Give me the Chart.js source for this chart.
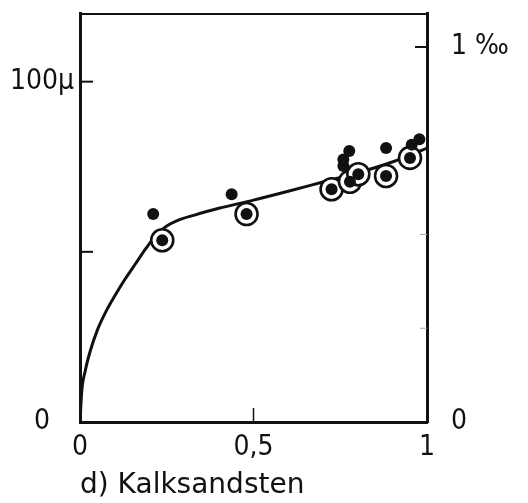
<!DOCTYPE html>
<html><head><meta charset="utf-8">
<script src="https://cdn.jsdelivr.net/npm/chart.js@4/dist/chart.umd.min.js"></script>
<style>html,body{margin:0;padding:0;background:#fff}canvas{display:block}</style>
</head><body>
<canvas id="c" width="528" height="503"></canvas>
<script>
// fitted curve
const curveX = [0, 0.005, 0.015, 0.03, 0.05, 0.075, 0.1, 0.13, 0.16, 0.19, 0.22, 0.25, 0.28, 0.33, 0.4, 0.5, 0.6, 0.7, 0.8, 0.9, 1.0];
const curveY = [0, 9, 15, 21, 27, 32.5, 37, 42, 46.5, 51, 55, 57.6, 59.2, 60.8, 62.8, 65.2, 67.8, 70.5, 73.2, 76.4, 80.5];
// ringed measurement points
const ringX = [0.237, 0.480, 0.725, 0.778, 0.802, 0.882, 0.951];
const ringY = [53.4, 61.1, 68.4, 70.6, 72.8, 72.3, 77.6];
// filled measurement points
const dotX = [0.211, 0.437, 0.759, 0.759, 0.776, 0.882, 0.956, 0.978];
const dotY = [61.1, 66.9, 75.2, 77.1, 79.6, 80.5, 81.5, 83.1];
// axes
const xTickValues = [0, 0.5, 1];
const xTickLabels = ['0', '0,5', '1'];
const leftTickValues = [0, 50, 100];
const leftTickLabels = ['0', '', '100μ'];
const rightTickValues = [0, 0.25, 0.5, 1];
const rightTickLabels = ['0', '', '', '1 ‰'];
const xTitle = 'd) Kalksandsten';
const leftMax = 120;
const rightMax = 1.089;

const pts = (xs, ys) => xs.map((x, i) => ({x, y: ys[i]}));
const INK = '#111';
const tickFont = {family: "'DejaVu Sans Condensed', 'DejaVu Sans', sans-serif", size: 28};
const noPad = s => { s.paddingTop = 0; s.paddingBottom = 0; s.paddingLeft = 0; s.paddingRight = 0; };

const inwardTicks = {
  id: 'inwardTicks',
  afterDatasetsDraw(chart) {
    const {ctx, scales} = chart;
    const ca = chart.chartArea;
    ctx.save();
    ctx.strokeStyle = INK;
    ctx.lineCap = 'butt';
    leftTickValues.forEach(v => {
      if (v === 0) return;
      const y = scales.y.getPixelForValue(v);
      ctx.lineWidth = 2;
      ctx.beginPath(); ctx.moveTo(ca.left, y); ctx.lineTo(ca.left + 13, y); ctx.stroke();
    });
    rightTickValues.forEach(v => {
      if (v === 0) return;
      const y = scales.y2.getPixelForValue(v);
      const major = v === 1;
      ctx.lineWidth = major ? 2 : 1;
      ctx.strokeStyle = major ? INK : '#aaa';
      ctx.beginPath(); ctx.moveTo(ca.right, y); ctx.lineTo(ca.right - (major ? 12 : 7), y); ctx.stroke();
    });
    ctx.strokeStyle = INK;
    xTickValues.forEach(v => {
      if (v === 0 || v === 1) return;
      const x = scales.x.getPixelForValue(v);
      ctx.lineWidth = 1.5;
      ctx.beginPath(); ctx.moveTo(x, ca.bottom); ctx.lineTo(x, ca.bottom - 14); ctx.stroke();
    });
    ctx.restore();
  }
};

new Chart(document.getElementById('c'), {
  type: 'scatter',
  data: {
    datasets: [
      {label: 'Kurve', data: pts(curveX, curveY), showLine: true, borderColor: INK, borderWidth: 3,
       pointRadius: 0, cubicInterpolationMode: 'monotone', fill: false, order: 4},
      {label: 'Ringe', data: pts(ringX, ringY), pointRadius: 11, pointBackgroundColor: '#fff',
       pointBorderColor: INK, pointBorderWidth: 2.6, order: 3},
      {label: 'Ringe Punkt', data: pts(ringX, ringY), pointRadius: 6, pointBackgroundColor: INK,
       pointBorderColor: INK, pointBorderWidth: 0, order: 2},
      {label: 'Punkte', data: pts(dotX, dotY), pointRadius: 6, pointBackgroundColor: INK,
       pointBorderColor: INK, pointBorderWidth: 0, order: 1}
    ]
  },
  options: {
    responsive: false,
    animation: false,
    devicePixelRatio: 1,
    layout: {padding: 0},
    plugins: {legend: {display: false}, tooltip: {enabled: false}},
    scales: {
      x: {
        type: 'linear', position: 'bottom', min: 0, max: 1,
        afterBuildTicks: s => { s.ticks = xTickValues.map(v => ({value: v})); },
        ticks: {color: INK, font: tickFont, padding: 9, maxRotation: 0, autoSkip: false,
                callback: v => xTickLabels[xTickValues.indexOf(v)]},
        grid: {display: false, drawTicks: false},
        border: {display: true, color: INK, width: 3},
        title: {display: true, text: xTitle, align: 'start', color: INK,
                font: {family: "'DejaVu Sans', sans-serif", size: 28}, padding: {top: 0, bottom: 0}},
        afterFit: s => { s.height = 81; noPad(s); }
      },
      x2: {
        type: 'linear', position: 'top', min: 0, max: 1,
        ticks: {display: false}, grid: {display: false, drawTicks: false},
        border: {display: true, color: INK, width: 2},
        afterFit: s => { s.height = 9.5; noPad(s); }
      },
      y: {
        type: 'linear', position: 'left', min: 0, max: leftMax,
        afterBuildTicks: s => { s.ticks = leftTickValues.map(v => ({value: v})); },
        ticks: {color: INK, font: tickFont, padding: 6, crossAlign: 'center', autoSkip: false,
                callback: v => leftTickLabels[leftTickValues.indexOf(v)]},
        grid: {display: false, drawTicks: false},
        border: {display: true, color: INK, width: 3},
        afterFit: s => { s.width = 80; noPad(s); }
      },
      y2: {
        type: 'linear', position: 'right', min: 0, max: rightMax,
        afterBuildTicks: s => { s.ticks = rightTickValues.map(v => ({value: v})); },
        ticks: {color: INK, font: tickFont, padding: 24, autoSkip: false,
                callback: v => rightTickLabels[rightTickValues.indexOf(v)]},
        grid: {display: false, drawTicks: false},
        border: {display: true, color: INK, width: 3},
        afterFit: s => { s.width = 101; noPad(s); }
      }
    }
  },
  plugins: [inwardTicks]
});
</script>
</body></html>
